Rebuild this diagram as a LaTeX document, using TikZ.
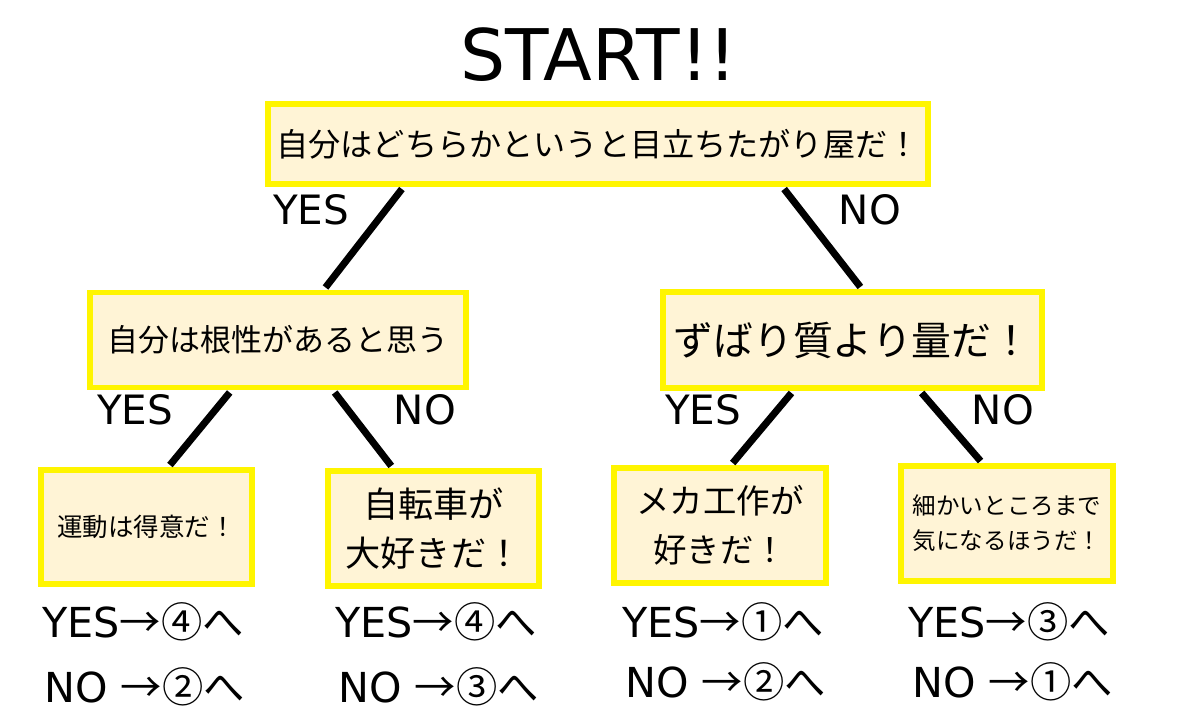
\documentclass[tikz,border=0pt]{standalone}
\usepackage{fontspec}
\setmainfont{DejaVu Sans}
\newfontfamily\jp{Noto Sans CJK JP}
\usetikzlibrary{calc}

\definecolor{boxline}{HTML}{FFF500}
\definecolor{boxfill}{HTML}{FFF4D6}

\begin{document}
\begin{tikzpicture}[
  qbox/.style={draw=boxline, fill=boxfill, line width=3.2pt, align=center, inner sep=0pt},
  link/.style={line width=4pt, shorten <=1.6pt, shorten >=1.6pt},
  answer/.style={font=\fontsize{23}{26}\selectfont},
  result/.style={anchor=west, inner sep=0pt, font=\fontsize{23.5}{26}\selectfont}
]
\useasboundingbox[fill=white] (0,0) rectangle (24,-14.44);
\node[font=\fontsize{40.5}{44}\selectfont] (start) at (11.98,-1.1) {START!!};

% questions
\node[qbox, minimum width=13.2cm, minimum height=1.6cm, font=\jp\fontsize{18.3}{22}\selectfont] (q0) at (11.96,-2.88) {自分はどちらかというと目立ちたがり屋だ！};
\node[qbox, minimum width=7.52cm, minimum height=1.9cm, font=\jp\fontsize{17.6}{22}\selectfont] (q1) at (5.56,-6.8) {自分は根性があると思う};
\node[qbox, minimum width=7.58cm, minimum height=1.92cm, font=\jp\fontsize{22.7}{26}\selectfont] (q2) at (17.05,-6.8) {ずばり質より量だ！};
\node[qbox, minimum width=4.22cm, minimum height=2.28cm, font=\jp\fontsize{14.5}{18}\selectfont] (q3) at (2.93,-10.54) {運動は得意だ！};
\node[qbox, minimum width=4.22cm, minimum height=2.3cm, font=\jp\fontsize{20}{28}\selectfont] (q4) at (8.67,-10.57) {自転車が\\大好きだ！};
\node[qbox, minimum width=4.24cm, minimum height=2.3cm, font=\jp\fontsize{19}{28}\selectfont] (q5) at (14.4,-10.51) {メカ工作が\\好きだ！};
\node[qbox, minimum width=4.24cm, minimum height=2.3cm, font=\jp\fontsize{13.4}{20}\selectfont] (q6) at (20.14,-10.47) {細かいところまで\\気になるほうだ！};

% branches
\draw[link] ($(q0.south west)!0.208!(q0.south east)$) -- ($(q1.north west)!0.62!(q1.north east)$);
\draw[link] ($(q0.south west)!0.777!(q0.south east)$) -- ($(q2.north west)!0.525!(q2.north east)$);
\draw[link] ($(q1.south west)!0.378!(q1.south east)$) -- ($(q3.north west)!0.60!(q3.north east)$);
\draw[link] ($(q1.south west)!0.644!(q1.south east)$) -- ($(q4.north west)!0.313!(q4.north east)$);
\draw[link] ($(q2.south west)!0.346!(q2.south east)$) -- ($(q5.north west)!0.55!(q5.north east)$);
\draw[link] ($(q2.south west)!0.675!(q2.south east)$) -- ($(q6.north west)!0.387!(q6.north east)$);

\node[answer] (y0) at (6.22,-4.2) {YES};
\node[answer] (n0) at (17.4,-4.2) {NO};
\node[answer] (y1) at (2.7,-8.2) {YES};
\node[answer] (n1) at (8.5,-8.2) {NO};
\node[answer] (y2) at (14.06,-8.2) {YES};
\node[answer] (n2) at (20.06,-8.2) {NO};

% where to go next
\node[result] (r3y) at (0.84,-12.44) {YES{\jp →④へ}};
\node[result] (r3n) at (0.88,-13.74) {NO {\jp →②へ}};
\node[result] (r4y) at (6.7,-12.44) {YES{\jp →④へ}};
\node[result] (r4n) at (6.76,-13.74) {NO {\jp →③へ}};
\node[result] (r5y) at (12.44,-12.44) {YES{\jp →①へ}};
\node[result] (r5n) at (12.5,-13.64) {NO {\jp →②へ}};
\node[result] (r6y) at (18.16,-12.44) {YES{\jp →③へ}};
\node[result] (r6n) at (18.24,-13.64) {NO {\jp →①へ}};
\end{tikzpicture}
\end{document}
